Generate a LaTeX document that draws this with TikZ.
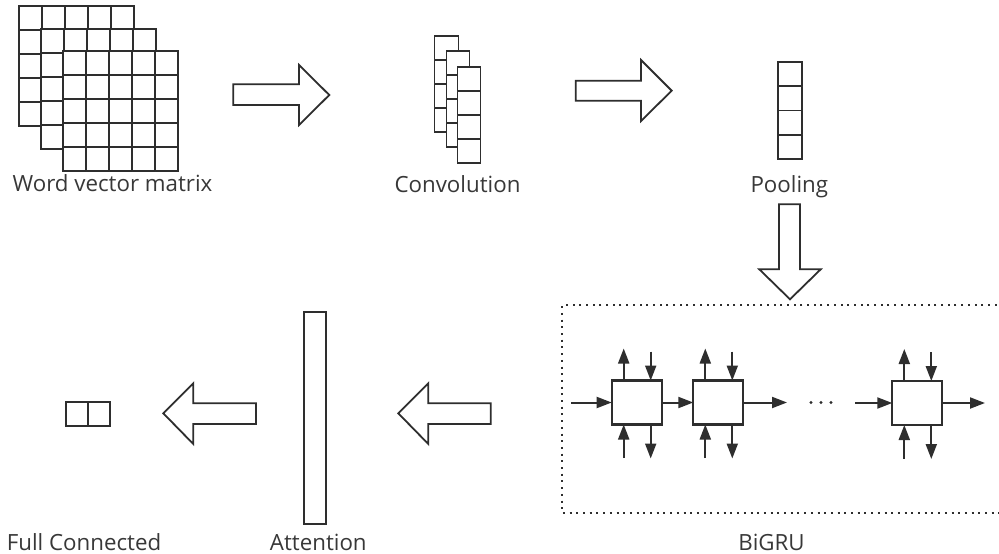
\documentclass[tikz,border=0pt]{standalone}
\usepackage{fontspec}
\setmainfont{Open Sans}
\usetikzlibrary{arrows.meta,calc}
\definecolor{ink}{HTML}{2E2E2E}
\definecolor{txt}{HTML}{383838}
\newcommand\gridfive[2]{%
  \draw[gridline] (#1,#2) rectangle ++(115,120);
  \foreach \k in {1,2,3,4}{%
    \draw[gridline] ({#1+23*\k},#2) -- ++(0,120);
    \draw[gridline] (#1,{#2+24*\k}) -- ++(115,0);
  }}
\newcommand\stackfour[4]{%
  \draw[gridline] (#1,#2) rectangle ++(#3,{4*#4});
  \foreach \k in {1,2,3}{\draw[gridline] (#1,{#2+#4*\k}) -- ++(#3,0);}}
\begin{document}
\begin{tikzpicture}[x=1pt,y=-1pt,
  gridline/.style={draw=ink,line width=1.7pt,fill=white},
  blockarrow/.style={draw=ink,line width=1.8pt,fill=white,line join=miter},
  cellbox/.style={draw=ink,line width=2.1pt,fill=white,minimum width=50pt,minimum height=44pt,inner sep=0pt,outer sep=0pt},
  plainbox/.style={draw=ink,line width=2pt,fill=white,inner sep=0pt,outer sep=0pt},
  flow/.style={draw=ink,line width=2pt,-{Triangle[length=15pt,width=11pt]}},
  lbl/.style={font=\fontsize{22.3}{24}\selectfont,text=txt,anchor=base,inner sep=0pt},
  dotbox/.style={draw=ink,line width=2pt,dash pattern=on 2pt off 4.7pt}]
\useasboundingbox (0,0) rectangle (999,554);
\fill[white] (0,0) rectangle (999,554);

% word vector matrix
\gridfive{19}{6}
\gridfive{41}{29}
\gridfive{63}{51}
\node[lbl] (lwvm) at (112.5,191) {Word vector matrix};

% arrow 1
\draw[blockarrow] (233.3,84.3) -- (299,84.3) -- (299,65) -- (329.3,95) -- (299,125) -- (299,105) -- (233.3,105) -- cycle;

% convolution
\stackfour{434.5}{35.7}{24}{24}
\stackfour{446.5}{50.7}{23}{24}
\stackfour{457.5}{67.3}{23}{24}
\node[lbl] (lconv) at (457.5,192) {Convolution};

% arrow 2
\draw[blockarrow] (575.7,80.7) -- (641,80.7) -- (641,60) -- (671.7,90.7) -- (641,121) -- (641,100.7) -- (575.7,100.7) -- cycle;

% pooling
\stackfour{778.3}{62}{24}{24.25}
\node[lbl] (lpool) at (789.3,192) {Pooling};

% down arrow
\draw[blockarrow] (779,204.3) -- (800,204.3) -- (800,269.3) -- (820.7,269.3) -- (790,299.3) -- (759.3,269.3) -- (779,269.3) -- cycle;

% BiGRU box
\draw[dotbox] (1010,305) -- (562.3,305) -- (562.3,513.3) -- (1010,513.3);
\node[cellbox] (g1) at (636.7,402.5) {};
\node[cellbox] (g2) at (718.3,402.5) {};
\node[cellbox] (g3) at (917.3,403) {};
\coordinate (in1) at (571,402.5);
\coordinate (out2) at (787,402.5);
\coordinate (in3) at (855,403);
\coordinate (out3) at (985,403);
\draw[flow] (in1) -- (g1.west);
\draw[flow] (g1.east) -- (g2.west);
\draw[flow] (g2.east) -- (out2);
\draw[flow] (in3) -- (g3.west);
\draw[flow] (g3.east) -- (out3);
\foreach \g in {g1,g2,g3}{
  \draw[flow] ($(\g.north)+(-13,0)$) -- ($(\g.north)+(-13,-32)$);
  \draw[flow] ($(\g.north)+(14,-29)$) -- ($(\g.north)+(14,0)$);
  \draw[flow] ($(\g.south)+(-13,33.5)$) -- ($(\g.south)+(-13,0)$);
  \draw[flow] ($(\g.south)+(14,0)$) -- ($(\g.south)+(14,34)$);
}
\foreach \d in {811,821,831}{\fill[ink] (\d,402.5) circle (1.7pt);}
\node[lbl] (lbigru) at (771.5,550) {BiGRU};

% arrow to attention
\draw[blockarrow] (490.7,403.3) -- (428.3,403.3) -- (428.3,383.3) -- (398.3,413.3) -- (428.3,444) -- (428.3,424) -- (490.7,424) -- cycle;

% attention
\node[plainbox,minimum width=21.7pt,minimum height=212.3pt] (att) at (315.15,417.85) {};
\node[lbl] (latt) at (318.3,550) {Attention};

% arrow to full connected
\draw[blockarrow] (256,403.3) -- (193.3,403.3) -- (193.3,383.3) -- (163.3,413.3) -- (193.3,444) -- (193.3,424) -- (256,424) -- cycle;

% full connected
\node[plainbox,minimum width=22pt,minimum height=24.3pt] (fc1) at (76.7,413.85) {};
\node[plainbox,minimum width=22pt,minimum height=24.3pt] (fc2) at (98.7,413.85) {};
\node[lbl] (lfc) at (84,550) {Full Connected};
\end{tikzpicture}
\end{document}
